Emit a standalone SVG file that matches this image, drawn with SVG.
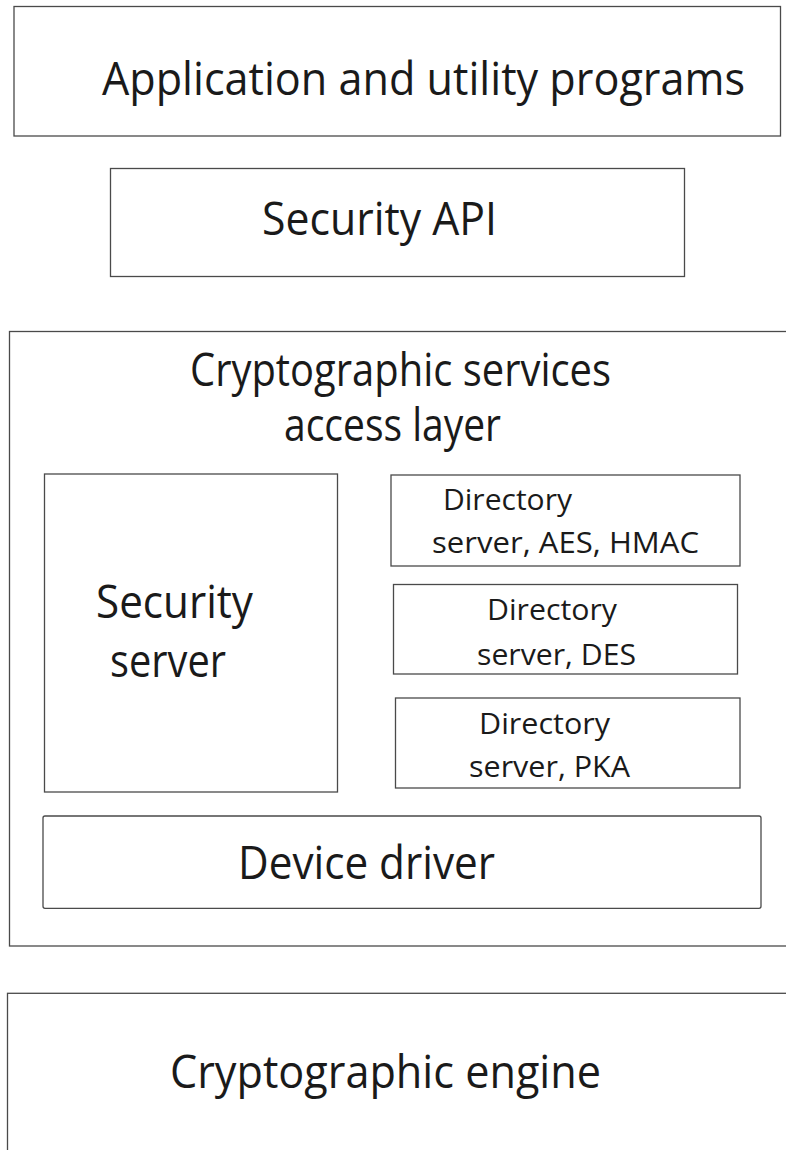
<svg xmlns="http://www.w3.org/2000/svg" width="786" height="1150" viewBox="0 0 786 1150">
<style>
.box{fill:#ffffff;stroke:#4a4a4a;stroke-width:1.3}
.t{font-family:"Open Sans","Noto Sans","Liberation Sans",sans-serif;fill:#1a1a1a}
.big{font-size:46px}
.sm{font-size:30px}
</style>
<rect width="786" height="1150" fill="#ffffff"/>
<g id="app">
<rect class="box" x="14" y="6.5" width="766.5" height="129.5"/>
<text class="t big" x="102" y="95" textLength="643" lengthAdjust="spacingAndGlyphs">Application and utility programs</text>
</g>
<g id="api">
<rect class="box" x="110.5" y="168.5" width="574" height="108"/>
<text class="t big" x="262" y="235" textLength="235" lengthAdjust="spacingAndGlyphs">Security API</text>
</g>
<g id="csal">
<rect class="box" x="9.5" y="331.5" width="790" height="614.5"/>
<text class="t big" x="190" y="386" textLength="421" lengthAdjust="spacingAndGlyphs">Cryptographic services</text>
<text class="t big" x="284" y="441" textLength="217" lengthAdjust="spacingAndGlyphs">access layer</text>
</g>
<g id="secserver">
<rect class="box" x="44.5" y="474" width="293" height="318"/>
<text class="t big" x="96" y="618" textLength="157" lengthAdjust="spacingAndGlyphs">Security</text>
<text class="t big" x="110" y="677" textLength="116" lengthAdjust="spacingAndGlyphs">server</text>
</g>
<g id="dir1">
<rect class="box" x="391" y="475" width="349" height="91"/>
<text class="t sm" x="443" y="510" textLength="129" lengthAdjust="spacingAndGlyphs">Directory</text>
<text class="t sm" x="432" y="553" textLength="267" lengthAdjust="spacingAndGlyphs">server, AES, HMAC</text>
</g>
<g id="dir2">
<rect class="box" x="393.5" y="584.5" width="344" height="89.5"/>
<text class="t sm" x="487" y="620" textLength="130" lengthAdjust="spacingAndGlyphs">Directory</text>
<text class="t sm" x="477" y="665" textLength="159" lengthAdjust="spacingAndGlyphs">server, DES</text>
</g>
<g id="dir3">
<rect class="box" x="395.5" y="698" width="344.5" height="90"/>
<text class="t sm" x="479" y="734" textLength="131" lengthAdjust="spacingAndGlyphs">Directory</text>
<text class="t sm" x="469" y="777" textLength="161" lengthAdjust="spacingAndGlyphs">server, PKA</text>
</g>
<g id="driver">
<rect class="box" x="43" y="816" width="718" height="92.3" rx="2"/>
<text class="t big" x="238" y="879" textLength="257" lengthAdjust="spacingAndGlyphs">Device driver</text>
</g>
<g id="engine">
<rect class="box" x="7.5" y="993.3" width="790" height="200"/>
<text class="t big" x="170" y="1088" textLength="431" lengthAdjust="spacingAndGlyphs">Cryptographic engine</text>
</g>
<g id="connectors"></g>
</svg>
